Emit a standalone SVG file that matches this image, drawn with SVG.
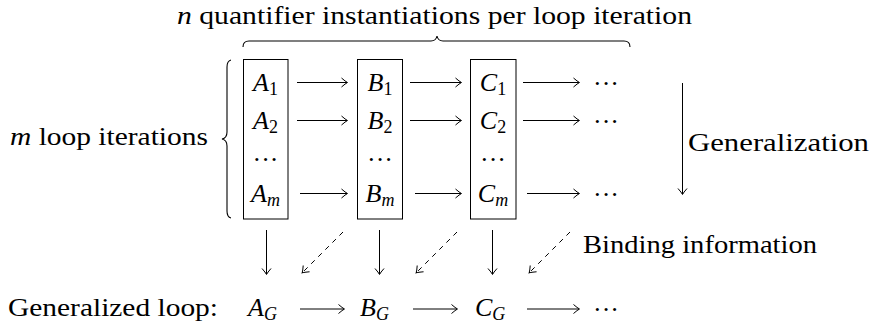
<svg xmlns="http://www.w3.org/2000/svg" width="874" height="327" viewBox="0 0 874 327" font-family="'Liberation Serif', 'Times New Roman', Tinos, 'DejaVu Serif', 'Noto Serif', serif">
<defs>
<style>
text{font-family:'Liberation Serif','Times New Roman',Tinos,'DejaVu Serif','Noto Serif',serif;fill:#000;font-size:26px}
.mi{font-style:italic}
.sub{font-size:18px;font-style:normal}
.subi{font-size:18px;font-style:italic}
.box{fill:none;stroke:#000;stroke-width:1}
.ar{fill:none;stroke:#000;stroke-width:1;marker-end:url(#hd)}
.da{fill:none;stroke:#000;stroke-width:1;stroke-dasharray:5 5;marker-end:url(#hd)}
.br{fill:none;stroke:#000;stroke-width:1.1}
</style>
<marker id="hd" markerUnits="userSpaceOnUse" markerWidth="12" markerHeight="12" refX="0" refY="0" viewBox="-8 -6 10 12" orient="auto">
<path d="M-5.5,-4.5 Q-1.5,-1 0.5,0 Q-1.5,1 -5.5,4.5" fill="none" stroke="#000" stroke-width="1"/>
</marker>
</defs>

<g id="title">
<text x="177" y="24" textLength="515" lengthAdjust="spacingAndGlyphs"><tspan class="mi">n</tspan> quantifier instantiations per loop iteration</text>
<path class="br" d="M243,47 Q243,41 249,41 L431,41 Q436,41 437,36 Q438,41 443,41 L624,41 Q630,41 630,47"/>
</g>

<g id="iterations-label">
<text x="10" y="145" textLength="198" lengthAdjust="spacingAndGlyphs"><tspan class="mi">m</tspan> loop iterations</text>
<path class="br" d="M231,60 Q227,61 227,67 L227,132 Q227,138 222,139 Q227,140 227,146 L227,211 Q227,217 231,218"/>
</g>

<g id="node-A">
<rect class="box" x="243.5" y="59.5" width="44.5" height="159.5"/>
<text x="265.5" y="91" text-anchor="middle"><tspan class="mi">A</tspan><tspan class="sub" dy="4">1</tspan></text>
<text x="265.5" y="129" text-anchor="middle"><tspan class="mi">A</tspan><tspan class="sub" dy="4">2</tspan></text>
<text x="265.5" y="168" text-anchor="middle">···</text>
<text x="265.5" y="202" text-anchor="middle"><tspan class="mi">A</tspan><tspan class="subi" dy="4">m</tspan></text>
</g>

<g id="node-B">
<rect class="box" x="357.5" y="59.5" width="45" height="159.5"/>
<text x="380" y="91" text-anchor="middle"><tspan class="mi">B</tspan><tspan class="sub" dy="4">1</tspan></text>
<text x="380" y="129" text-anchor="middle"><tspan class="mi">B</tspan><tspan class="sub" dy="4">2</tspan></text>
<text x="380" y="168" text-anchor="middle">···</text>
<text x="380" y="202" text-anchor="middle"><tspan class="mi">B</tspan><tspan class="subi" dy="4">m</tspan></text>
</g>

<g id="node-C">
<rect class="box" x="470.5" y="59.5" width="45.5" height="159.5"/>
<text x="493" y="91" text-anchor="middle"><tspan class="mi">C</tspan><tspan class="sub" dy="4">1</tspan></text>
<text x="493" y="129" text-anchor="middle"><tspan class="mi">C</tspan><tspan class="sub" dy="4">2</tspan></text>
<text x="493" y="168" text-anchor="middle">···</text>
<text x="493" y="202" text-anchor="middle"><tspan class="mi">C</tspan><tspan class="subi" dy="4">m</tspan></text>
</g>

<g id="node-dots">
<text x="606" y="92" text-anchor="middle">···</text>
<text x="606" y="130" text-anchor="middle">···</text>
<text x="606" y="203" text-anchor="middle">···</text>
</g>

<g id="generalization-label">
<text x="688" y="151" textLength="181" lengthAdjust="spacingAndGlyphs">Generalization</text>
</g>

<g id="binding-label">
<text x="583" y="253" textLength="234" lengthAdjust="spacingAndGlyphs">Binding information</text>
</g>

<g id="generalized-loop">
<text x="8" y="316" textLength="210" lengthAdjust="spacingAndGlyphs">Generalized loop:</text>
</g>

<g id="node-AG">
<text x="248" y="316"><tspan class="mi">A</tspan><tspan class="subi" dy="4">G</tspan></text>
</g>
<g id="node-BG">
<text x="360" y="316"><tspan class="mi">B</tspan><tspan class="subi" dy="4">G</tspan></text>
</g>
<g id="node-CG">
<text x="475" y="316"><tspan class="mi">C</tspan><tspan class="subi" dy="4">G</tspan></text>
</g>
<g id="node-dotsG">
<text x="606" y="318" text-anchor="middle">···</text>
</g>

<g id="connectors">
<path class="ar" d="M297,82.5 H347"/>
<path class="ar" d="M297,120.5 H347"/>
<path class="ar" d="M300,193.5 H347"/>
<path class="ar" d="M410,82.5 H461"/>
<path class="ar" d="M410,120.5 H461"/>
<path class="ar" d="M415,193.5 H461"/>
<path class="ar" d="M523,82.5 H579"/>
<path class="ar" d="M523,120.5 H579"/>
<path class="ar" d="M527,193.5 H579"/>
<path class="ar" d="M682.5,83 V194"/>
<path class="ar" d="M266.5,230 V274"/>
<path class="ar" d="M379.5,230 V274"/>
<path class="ar" d="M492.5,230 V274"/>
<path class="da" d="M343,232 L302.5,272.5"/>
<path class="da" d="M457,232 L416.5,272.5"/>
<path class="da" d="M570,232 L529.5,272.5"/>
<path class="ar" d="M300,309 H344"/>
<path class="ar" d="M413,309 H457"/>
<path class="ar" d="M527,309 H579"/>
</g>
</svg>
